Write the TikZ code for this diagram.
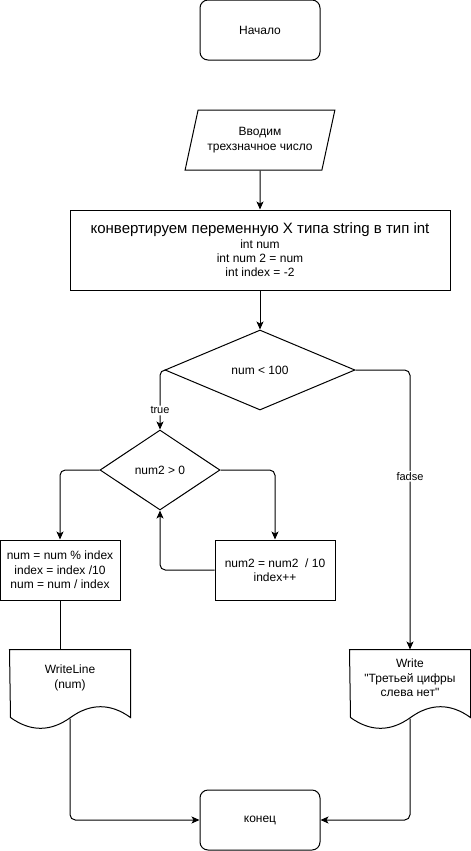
\documentclass[tikz,border=0pt]{standalone}
\usepackage{fontspec}
\setmainfont{Liberation Sans}
\usetikzlibrary{shapes.geometric}
\usetikzlibrary{calc}
\usetikzlibrary{arrows.meta}
\newcommand{\blkw}{90pt}
\newcommand{\blkh}{45pt}
\newcommand{\convw}{285pt}
\newcommand{\convh}{60pt}
\newcommand{\dmdh}{60pt}
\newcommand{\dmdaw}{142.5pt}
\newcommand{\dmdbw}{90pt}
\newcommand{\iow}{112.5pt}
\newcommand{\doch}{42pt}
\newcommand{\docshape}[1]{
  \draw (#1.north west) -- (#1.north east) -- ++(0,68)
    .. controls +(-20,-14.4) and +(20,-14.4) .. ++(-60,0)
    .. controls +(-20,14.4) and +(20,14.4) .. ++(-60,0) -- cycle;
  \coordinate (#1out) at ($(#1.south)+(0,12)$);}

\begin{document}
\begin{tikzpicture}[x=0.75pt,y=-0.75pt,line width=0.75pt,
    font=\fontsize{9}{10.75}\selectfont,
    term/.style={draw,rounded corners=6pt,minimum width=\blkw,minimum height=\blkh},
    proc/.style={draw,minimum width=\blkw,minimum height=\blkh,align=center,inner sep=1pt},
    io/.style={draw,trapezium,trapezium left angle=71.57,trapezium right angle=108.43,
      trapezium stretches=true,minimum width=\iow,minimum height=\blkh,
      inner xsep=1pt,align=center},
    cond/.style={draw,diamond,minimum height=\dmdh,inner sep=0pt},
    doc/.style={minimum width=\blkw,minimum height=\doch,inner sep=0pt,align=center},
    flow/.style={-{Stealth[length=6pt,width=5.25pt,inset=1.5pt]},rounded corners=4pt},
    lbl/.style={fill=white,inner sep=1pt,font=\fontsize{8.25}{10}\selectfont}]
    \useasboundingbox (0,0) rectangle (471,851);

    \node[term] (start) at (260,30) {Начало};
    \node[io] (input) at (260,140) {Вводим\\трехзначное число};
    \node[proc,minimum width=\convw,minimum height=\convh] (conv) at (260,250)
      {{\fontsize{11.25}{13.5}\selectfont конвертируем переменную X типа string в тип int}\\
       int num\\int num 2 = num\\int index = -2};
    \node[cond,minimum width=\dmdaw] (d1) at (260,370) {num < 100};
    \node[cond,minimum width=\dmdbw] (d2) at (160,470) {num2 > 0};
    \node[proc] (boxL) at (60,570) {num = num \% index\\index = index /10\\num = num / index};
    \node[proc] (boxR) at (275,570) {num2 = num2~ / 10\\index++};
    \node[doc] (docL) at (70,678) {WriteLine\\(num)};
    \docshape{docL}
    \node[doc] (docR) at (410,678)
      {Write\\\textquotedbl Третьей цифры\\слева нет\textquotedbl};
    \docshape{docR}
    \node[term] (finish) at (260,820) {конец};

    \draw[flow] (input) -- (conv);
    \draw[flow] (conv) -- (d1);
    \draw[flow] (d1.west) -| node[lbl,pos=0.84] {true} (d2.north);
    \draw[flow] (d1.east) -| node[lbl,pos=0.69] {fadse} (docR.north);
    \draw[flow] (d2.west) -| (boxL.north);
    \draw[flow] (d2.east) -| (boxR.north);
    \draw[flow] (boxR.west) -| (d2.south);
    \draw (boxL.south) -- (boxL.south |- docL.north);
    \draw[flow] (docLout) |- (finish.west);
    \draw[flow] (docRout) |- (finish.east);
  \end{tikzpicture}
\end{document}
